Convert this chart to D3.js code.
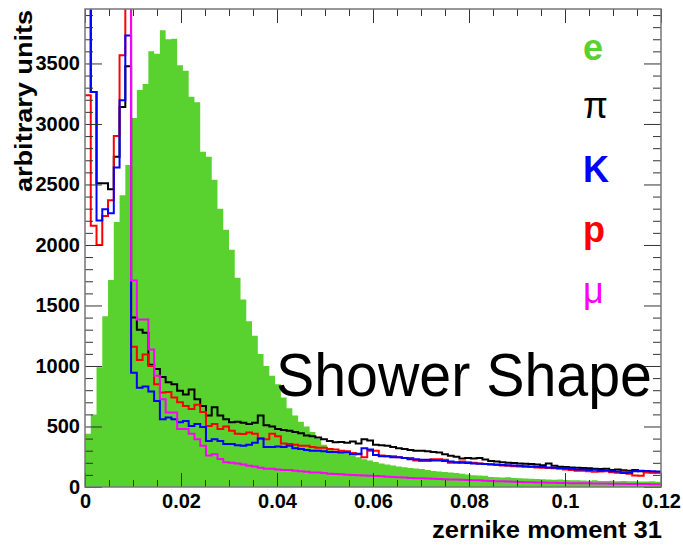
<!DOCTYPE html>
<html>
<head>
<meta charset="utf-8">
<script src="https://cdn.jsdelivr.net/npm/d3@7"></script>
<style>
html,body{margin:0;padding:0;background:#fff;}
text{font-family:"Liberation Sans",Arial,sans-serif;}
</style>
</head>
<body>
<svg id="chart" width="683" height="546"></svg>
<script>
// ---- data ----
const binWidth = 0.0012;
const nBins = 100;
const xTickValues = [0, 0.02, 0.04, 0.06, 0.08, 0.1, 0.12];
const xTickLabels = ["0", "0.02", "0.04", "0.06", "0.08", "0.1", "0.12"];
const yTickValues = [0, 500, 1000, 1500, 2000, 2500, 3000, 3500];
const yTickLabels = ["0", "500", "1000", "1500", "2000", "2500", "3000", "3500"];

const electron = [
 440, 600, 990, 1410, 1710, 2190, 2410, 2660, 3050, 3280,
 3330, 3600, 3580, 3775, 3700, 3705, 3485, 3440, 3225, 3180,
 2770, 2730, 2540, 2300, 2125, 1960, 1730, 1550, 1370, 1250,
 1100, 1000, 920, 850, 740, 650, 590, 540, 500, 455,
 400, 350, 315, 300, 288, 275, 260, 245, 230, 218,
 206, 195, 185, 178, 170, 163, 158, 152, 148, 140,
 132, 128, 124, 120, 115, 110, 103, 98, 95, 92,
 82, 80, 78, 80, 75, 72, 70, 68, 66, 64,
 62, 60, 62, 58, 56, 55, 54, 52, 55, 50,
 50, 52, 48, 50, 47, 48, 46, 45, 48, 44];
const pion = [
 5000, 3264, 2510, 2510, 2460, 2730, 3140, 3476, 1400, 1300,
 1275, 1010, 975, 910, 865, 850, 795, 765, 805, 725,
 670, 590, 660, 590, 560, 535, 540, 530, 520, 530,
 590, 510, 500, 480, 470, 465, 455, 445, 425, 420,
 410, 395, 380, 370, 372, 365, 375, 360, 395, 385,
 350, 345, 340, 330, 320, 315, 305, 300, 300, 295,
 290, 285, 270, 258, 250, 235, 240, 235, 240, 228,
 215, 210, 205, 200, 198, 195, 192, 190, 185, 180,
 195, 175, 168, 165, 162, 160, 158, 155, 150, 148,
 150, 140, 145, 138, 135, 140, 130, 125, 122, 120];
const kaon = [
 5000, 3264, 2202, 2296, 2263, 2640, 3196, 3731, 945, 820,
 830, 790, 710, 560, 575, 560, 535, 545, 505, 520,
 495, 380, 395, 380, 355, 355, 345, 340, 350, 365,
 400, 330, 330, 335, 330, 340, 320, 315, 305, 300,
 300, 295, 290, 290, 285, 285, 270, 275, 320, 310,
 265, 255, 255, 245, 245, 240, 230, 230, 225, 225,
 220, 218, 215, 210, 205, 200, 198, 195, 192, 190,
 188, 185, 182, 180, 178, 175, 172, 170, 168, 165,
 162, 160, 158, 155, 150, 145, 145, 140, 142, 135,
 138, 130, 128, 115, 118, 130, 135, 132, 130, 128];
const proton = [
 3237, 2158, 2000, 2240, 2370, 2900, 3567, 5000, 1160, 1050,
 1095, 1000, 850, 780, 785, 740, 700, 670, 645, 680,
 620, 505, 520, 480, 500, 465, 440, 437, 450, 440,
 400, 395, 440, 420, 360, 355, 350, 340, 340, 330,
 325, 325, 315, 310, 300, 295, 280, 270, 245, 300,
 300, 260, 255, 255, 245, 240, 240, 220, 215, 215,
 230, 230, 225, 200, 200, 210, 205, 200, 195, 190,
 185, 182, 178, 175, 172, 170, 168, 165, 162, 160,
 158, 155, 150, 145, 140, 135, 135, 130, 125, 128,
 130, 122, 118, 125, 110, 95, 92, 120, 118, 120];
const muon = [
 null, null, null, null, null, null, null, 5000, 1707, 1384,
 1384, 1137, 920, 725, 615, 615, 480, 480, 440, 395,
 340, 260, 270, 232, 205, 200, 195, 185, 175, 170,
 160, 150, 150, 145, 140, 140, 135, 130, 125, 120,
 120, 115, 110, 108, 105, 102, 100, 97, 95, 92,
 90, 88, 85, 82, 80, 78, 75, 73, 72, 70,
 68, 66, 65, 63, 62, 60, 58, 56, 55, 52,
 50, 48, 47, 45, 44, 42, 40, 40, 38, 37,
 36, 35, 34, 33, 32, 31, 30, 30, 29, 28,
 28, 27, 26, 26, 25, 25, 24, 24, 23, 23];

const legendLabels = ["e", "π", "K", "p", "μ"];
const seriesColors = ["#59d12e", "#000000", "#0000ff", "#ff0000", "#ff00ff"];

// ---- layout ----
const svg = d3.select("#chart");
const pL = 85, pR = 661, pT = 9, pB = 487;
const x = d3.scaleLinear().domain([0, 0.12]).range([pL, pR]);
const y = d3.scaleLinear().domain([0, 3950]).range([pB, pT]);

svg.append("rect").attr("width", 683).attr("height", 546).attr("fill", "#fff");

svg.append("defs").append("clipPath").attr("id", "plotclip")
  .append("rect").attr("x", pL).attr("y", pT).attr("width", pR - pL).attr("height", pB - pT);

const toPts = arr => {
  const pts = arr.map((v, i) => ({e: i * binWidth, v}));
  pts.push({e: nBins * binWidth, v: arr[arr.length - 1]});
  return pts;
};

const plot = svg.append("g").attr("clip-path", "url(#plotclip)");

// electron filled
const area = d3.area().curve(d3.curveStepAfter)
  .x(d => x(d.e)).y0(y(0)).y1(d => y(d.v));
plot.append("path").datum(toPts(electron)).attr("d", area)
  .attr("fill", seriesColors[0]).attr("stroke", "none");

const line = d3.line().curve(d3.curveStepAfter)
  .defined(d => d.v !== null)
  .x(d => x(d.e)).y(d => y(d.v));

[[pion, 1], [proton, 3], [kaon, 2], [muon, 4]].forEach(([arr, ci]) => {
  plot.append("path").datum(toPts(arr)).attr("d", line)
    .attr("fill", "none").attr("stroke", seriesColors[ci]).attr("stroke-width", 2)
    .attr("stroke-linejoin", "miter");
});

// ---- axes ----
const tickColor = "#333";
const xMinor = d3.range(0, 0.1201, 0.005).filter(v => !xTickValues.some(t => Math.abs(t - v) < 1e-9));
const yMinor = d3.range(0, 3950, 100).filter(v => v % 500 !== 0);

function styleAxis(g) {
  g.select(".domain").remove();
  g.selectAll(".tick line").attr("stroke", tickColor).attr("stroke-width", 1);
}

// bottom
svg.append("g").attr("transform", `translate(0,${pB})`)
  .call(d3.axisBottom(x).tickValues(xTickValues).tickSize(-14).tickPadding(7)
    .tickFormat((d, i) => xTickLabels[i]))
  .call(styleAxis)
  .call(g => g.selectAll("text").attr("font-size", 20).attr("font-weight", "bold")
    .attr("fill", "#000").attr("font-family", "Liberation Sans, Arial, sans-serif"));
svg.append("g").attr("transform", `translate(0,${pB})`)
  .call(d3.axisBottom(x).tickValues(xMinor).tickSize(-7).tickFormat(""))
  .call(styleAxis);
// top
svg.append("g").attr("transform", `translate(0,${pT})`)
  .call(d3.axisTop(x).tickValues(xTickValues).tickSize(-14).tickFormat(""))
  .call(styleAxis);
svg.append("g").attr("transform", `translate(0,${pT})`)
  .call(d3.axisTop(x).tickValues(xMinor).tickSize(-7).tickFormat(""))
  .call(styleAxis);
// left
svg.append("g").attr("transform", `translate(${pL},0)`)
  .call(d3.axisLeft(y).tickValues(yTickValues).tickSize(-17).tickPadding(5)
    .tickFormat((d, i) => yTickLabels[i]))
  .call(styleAxis)
  .call(g => g.selectAll("text").attr("font-size", 20).attr("font-weight", "bold")
    .attr("fill", "#000").attr("font-family", "Liberation Sans, Arial, sans-serif"));
svg.append("g").attr("transform", `translate(${pL},0)`)
  .call(d3.axisLeft(y).tickValues(yMinor).tickSize(-8).tickFormat(""))
  .call(styleAxis);
// right
svg.append("g").attr("transform", `translate(${pR},0)`)
  .call(d3.axisRight(y).tickValues(yTickValues).tickSize(-17).tickFormat(""))
  .call(styleAxis);
svg.append("g").attr("transform", `translate(${pR},0)`)
  .call(d3.axisRight(y).tickValues(yMinor).tickSize(-8).tickFormat(""))
  .call(styleAxis);

// frame
svg.append("rect").attr("x", pL).attr("y", pT).attr("width", pR - pL).attr("height", pB - pT)
  .attr("fill", "none").attr("stroke", "#777").attr("stroke-width", 1.5);

// axis titles
svg.append("text").attr("x", 662).attr("y", 538).attr("text-anchor", "end")
  .attr("font-size", 24).attr("font-weight", "bold").attr("textLength", 230)
  .attr("lengthAdjust", "spacingAndGlyphs").text("zernike moment 31");
svg.append("text").attr("transform", "translate(32,10) rotate(-90)").attr("text-anchor", "end")
  .attr("font-size", 23).attr("font-weight", "bold").attr("textLength", 182)
  .attr("lengthAdjust", "spacingAndGlyphs").text("arbitrary units");

// legend
const legendY = [60, 118, 182, 242, 303];
legendLabels.forEach((lab, i) => {
  const greek = (lab === "π" || lab === "μ");
  svg.append("text").attr("x", 583).attr("y", legendY[i])
    .attr("font-size", 36)
    .attr("font-weight", greek ? "normal" : "bold")
    .attr("font-family", greek ? "Liberation Serif, serif" : "Liberation Sans, Arial, sans-serif")
    .attr("fill", seriesColors[i]).text(lab);
});

// annotation
svg.append("text").attr("x", 276).attr("y", 396)
  .attr("font-family", "Lato, sans-serif").attr("font-size", 62)
  .attr("textLength", 376).attr("lengthAdjust", "spacingAndGlyphs")
  .attr("fill", "#000").text("Shower Shape");
</script>
</body>
</html>
